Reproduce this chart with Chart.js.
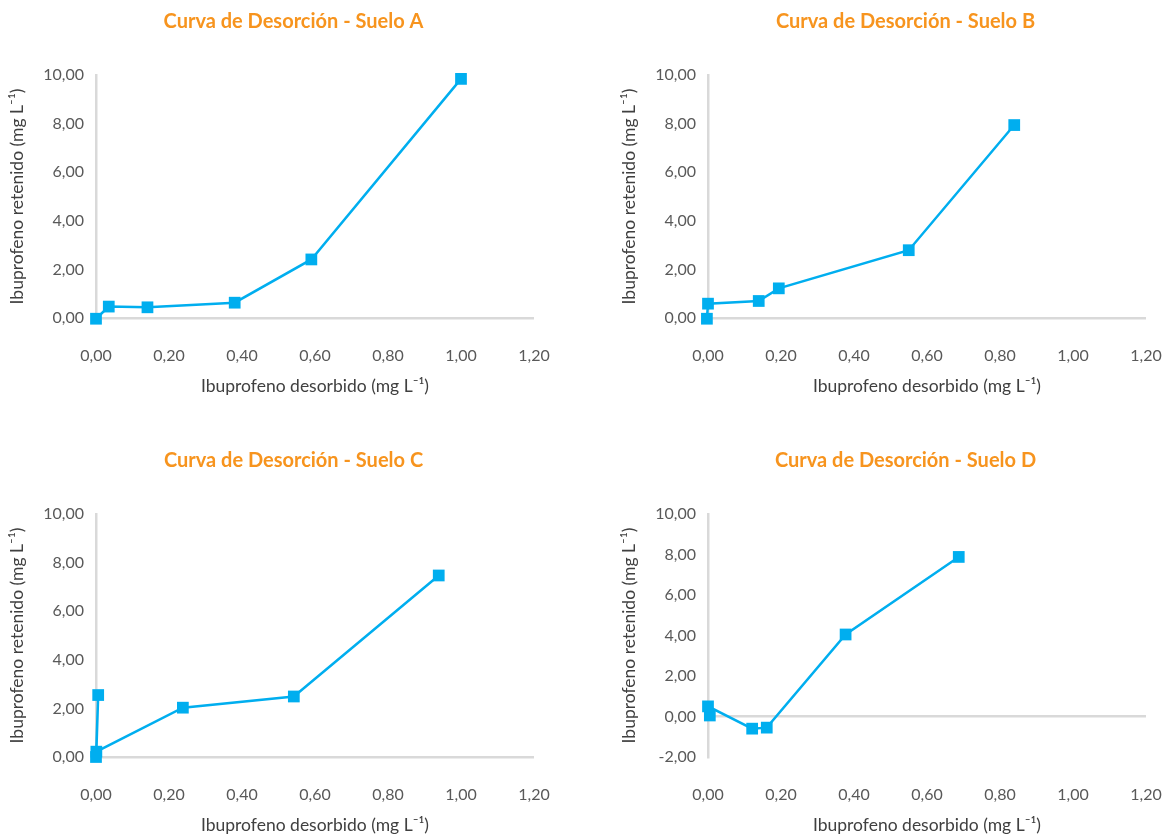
<!DOCTYPE html>
<html>
<head>
<meta charset="utf-8">
<script src="https://cdn.jsdelivr.net/npm/chart.js@4"></script>
<style>
  html, body { margin: 0; padding: 0; background: #fff; overflow: hidden; width: 1167px; height: 838px; position: relative; }
  .panel { position: absolute; width: 587px; height: 399px; }
</style>
</head>
<body>
<div class="panel" style="left:0;top:0"><canvas id="chartA" width="587" height="399"></canvas></div>
<div class="panel" style="left:612px;top:0"><canvas id="chartB" width="587" height="399"></canvas></div>
<div class="panel" style="left:0;top:439px"><canvas id="chartC" width="587" height="399"></canvas></div>
<div class="panel" style="left:612px;top:439px"><canvas id="chartD" width="587" height="399"></canvas></div>
<script>
'use strict';

/** @desc Ibuprofeno desorbido (x) y retenido (y) por suelo */
const SUELO_A_X = [0.00, 0.035, 0.141, 0.380, 0.590, 1.000];
const SUELO_A_Y = [-0.03, 0.47, 0.44, 0.63, 2.41, 9.84];

const SUELO_B_X = [-0.003, 0.000, 0.139, 0.194, 0.550, 0.839];
const SUELO_B_Y = [-0.03, 0.59, 0.70, 1.22, 2.79, 7.94];

const SUELO_C_X = [0.000, 0.006, 0.001, 0.238, 0.542, 0.939];
const SUELO_C_Y = [0.00, 2.55, 0.22, 2.03, 2.49, 7.47];

const SUELO_D_X = [0.005, 0.000, 0.121, 0.161, 0.377, 0.687];
const SUELO_D_Y = [0.05, 0.50, -0.60, -0.55, 4.05, 7.88];

/** @desc Axis limits */
const X_MIN = 0;
const X_MAX = 1.2;
const X_STEP = 0.2;
const Y_MAX = 10;
const Y_STEP = 2;

const TITLE_PREFIX = 'Curva de Desorción - Suelo ';
const X_TITLE = 'Ibuprofeno desorbido (mg L⁻¹)';
const Y_TITLE = 'Ibuprofeno retenido (mg L⁻¹)';

const BLUE = '#00AEEF';
const ORANGE = '#F7941E';
const AXIS_GREY = '#D9D9D9';
const TICK_COLOR = '#595959';
const TITLE_COLOR = '#404040';
const FONT = 'Lato';

const formatComma = (value) => Number(value).toFixed(2).replace('.', ',');

/** @desc Center the chart title on the whole canvas, not on the padded box */
const CENTER_TITLE = {
  id: 'centerTitle',
  afterLayout(chart) {
    const block = chart.titleBlock;
    if (!block) return;
    block.left = 0;
    block.right = chart.width;
    block.width = chart.width;
  }
};

function makeChart(id, soil, xs, ys, yMin) {
  const points = xs.map((x, i) => ({ x: x, y: ys[i] }));
  return new Chart(document.getElementById(id).getContext('2d'), {
    type: 'scatter',
    data: {
      datasets: [{
        data: points,
        showLine: true,
        borderColor: BLUE,
        backgroundColor: BLUE,
        borderWidth: 2.5,
        pointStyle: 'rect',
        pointRadius: 8.3,
        pointBorderWidth: 0,
        clip: false
      }]
    },
    plugins: [CENTER_TITLE],
    options: {
      responsive: false,
      animation: false,
      layout: { padding: { left: 0, right: 53, top: 0, bottom: 0 } },
      plugins: {
        legend: { display: false },
        tooltip: { enabled: false },
        title: {
          display: true,
          text: TITLE_PREFIX + soil,
          color: ORANGE,
          font: { family: FONT, size: 20, weight: 'bold' },
          padding: { top: 10, bottom: 41 }
        }
      },
      scales: {
        x: {
          type: 'linear',
          min: X_MIN,
          max: X_MAX,
          ticks: {
            stepSize: X_STEP,
            color: TICK_COLOR,
            font: { family: FONT, size: 16 },
            padding: 20,
            callback: formatComma
          },
          grid: { display: false },
          border: { display: false },
          title: {
            display: true,
            text: X_TITLE,
            color: TITLE_COLOR,
            font: { family: FONT, size: 17.5 },
            padding: { top: 0, bottom: 2 }
          },
          afterFit: (scale) => { scale.height = 81; }
        },
        y: {
          min: yMin,
          max: Y_MAX,
          ticks: {
            stepSize: Y_STEP,
            color: TICK_COLOR,
            font: { family: FONT, size: 16 },
            padding: 12,
            callback: formatComma
          },
          grid: {
            drawTicks: false,
            lineWidth: 2.5,
            color: (ctx) => (ctx.tick && ctx.tick.value === 0 ? AXIS_GREY : 'rgba(0,0,0,0)')
          },
          border: { display: true, color: AXIS_GREY, width: 2.5 },
          title: {
            display: true,
            text: Y_TITLE,
            color: TITLE_COLOR,
            font: { family: FONT, size: 17.5 },
            padding: { top: 7, bottom: 0 }
          },
          afterFit: (scale) => { scale.width = 96; }
        }
      }
    }
  });
}

makeChart('chartA', 'A', SUELO_A_X, SUELO_A_Y, 0);
makeChart('chartB', 'B', SUELO_B_X, SUELO_B_Y, 0);
makeChart('chartC', 'C', SUELO_C_X, SUELO_C_Y, 0);
makeChart('chartD', 'D', SUELO_D_X, SUELO_D_Y, -2);
</script>
</body>
</html>
